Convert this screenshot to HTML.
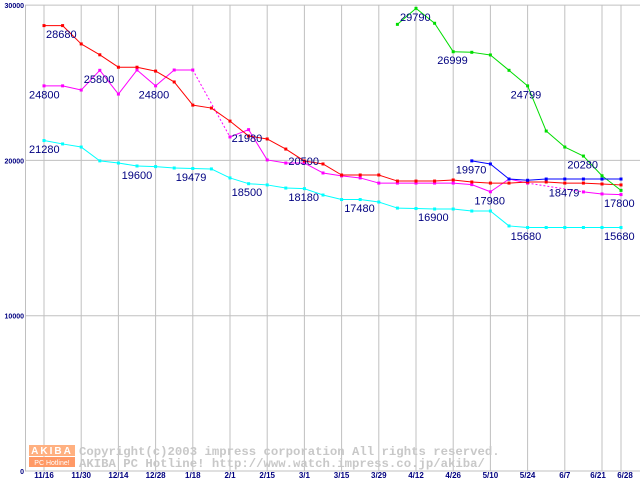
<!DOCTYPE html>
<html><head><meta charset="utf-8"><style>
body{margin:0;background:#fff;width:640px;height:480px;overflow:hidden}
svg{display:block;font-family:"Liberation Sans",sans-serif}
</style></head><body>
<svg id="chart" width="640" height="480" xmlns="http://www.w3.org/2000/svg">
<g id="grid"></g>
<g id="wm">
<rect x="29" y="445" width="46" height="11" fill="#ffb080"/>
<text x="52" y="454" font-size="10" font-weight="bold" fill="#fff" text-anchor="middle" letter-spacing="2">AKIBA</text>
<rect x="29" y="457" width="46" height="10" fill="#ff9966"/>
<text x="52" y="465" font-size="7" fill="#fff" text-anchor="middle">PC Hotline!</text>
<text x="79" y="455" font-size="12.3" font-family="Liberation Mono,monospace" fill="#c8c8c8" font-weight="bold">Copyright(c)2003 impress corporation All rights reserved.</text>
<text x="79" y="467" font-size="12.3" font-family="Liberation Mono,monospace" fill="#c8c8c8" font-weight="bold">AKIBA PC Hotline!  http://www.watch.impress.co.jp/akiba/</text>
</g>
<g id="series"></g>
<g id="labels"></g>
</svg>
<script>
const xTicks=["11/16","11/30","12/14","12/28","1/18","2/1","2/15","3/1","3/15","3/29","4/12","4/26","5/10","5/24","6/7","6/21","6/28"];
const yTicks=[0,10000,20000,30000];
const redVals=[28680,28680,27500,26800,26000,26000,25750,25050,23560,23370,22530,21570,21380,20730,19960,19770,19060,19060,19060,18670,18670,18670,18740,18610,18540,18540,18610,18610,18540,18540,18480,18420];
const magentaVals=[24800,24800,24530,25800,24270,25820,24800,25820,25820,null,21510,21980,20030,19830,19830,19190,19000,18870,18540,18540,18540,18540,18540,18440,17980,18800,18540,null,null,17970,17840,17800];
const cyanVals=[21280,21060,20860,19970,19830,19640,19600,19510,19479,19450,18870,18500,18420,18220,18180,17770,17480,17480,17320,16930,16900,16870,16870,16740,16740,15780,15680,15680,15680,15680,15680,15680];
const greenVals=[null,null,null,null,null,null,null,null,null,null,null,null,null,null,null,null,null,null,null,28760,29790,28830,26999,26960,26790,25800,24799,21890,20860,20280,19010,18070];
const blueVals=[null,null,null,null,null,null,null,null,null,null,null,null,null,null,null,null,null,null,null,null,null,null,null,19970,19770,18800,18720,18800,18800,18800,18800,18800];
const labelTexts=["28680","25800","24800","24800","21280","21980","20500","19600","19479","18500","18180","17480","16900","29790","26999","24799","19970","17980","18479","20280","17800","15680","15680"];
const labelIdx=[0,3,0,6,0,11,14,6,8,11,14,17,20,20,22,26,23,24,28,29,31,26,31];
const labelVal=[28680,25800,24800,24800,21280,21980,20500,19600,19479,18500,18180,17480,16900,29790,26999,24799,19970,17980,18479,20280,17800,15680,15680];
const labelDx=[2,-16,-15,-17,-15,-17,-16,-34,-17,-17,-16,-16,2,-16,-16,-17,-16,-16,-16,-16,-17,-17,-17];

const NS="http://www.w3.org/2000/svg";
function X(i){return i===31?621:44+18.6*i;}
function Y(v){return 471-v*0.01553;}
function tx(i){return i===16?621:44+37.2*i;}
function mk(tag,at,par){const e=document.createElementNS(NS,tag);for(const k in at)e.setAttribute(k,at[k]);par.appendChild(e);return e;}
const grid=document.getElementById('grid');
for(let i=0;i<xTicks.length;i++){
  const l=mk('line',{x1:tx(i),x2:tx(i),y1:5,y2:471,stroke:'#c0c0c0','stroke-width':1},grid);
  
  
  const t=mk('text',{x:tx(i)+(i===15?-4:i===16?4:0),y:478,'font-size':8,'font-weight':'bold',fill:'#000080','text-anchor':'middle'},grid);
  t.textContent=xTicks[i];
  
  
}
for(const v of yTicks){
  const l=mk('line',{x1:25,x2:640,y1:Y(v),y2:Y(v),stroke:'#c0c0c0','stroke-width':1},grid);
  
  
  const t=mk('text',{x:24,y:Y(v)+3,'font-size':7,'font-weight':'bold',fill:'#000080','text-anchor':'end'},grid);
  t.textContent=v;
  
  
}
const ax=mk('line',{x1:25.5,x2:25.5,y1:5,y2:471,stroke:'#c0c0c0'},grid);


const sg=document.getElementById('series');
function draw(vals,color,name){
  const g=mk('g',{},sg);
  
  
  let prev=-1;
  for(let i=0;i<vals.length;i++){
    if(vals[i]==null)continue;
    if(prev>=0){
      const a={x1:X(prev),y1:Y(vals[prev]),x2:X(i),y2:Y(vals[i]),stroke:color,'stroke-width':1};
      if(i-prev>1)a['stroke-dasharray']='2,2';
      const l=mk('line',a,g);
      
      
    }
    const r=mk('rect',{x:X(i)-1.5,y:Y(vals[i])-1.5,width:3,height:3,fill:color},g);
    
    
    prev=i;
  }
}
draw(cyanVals,'#00ffff','cyan-series');
draw(magentaVals,'#ff00ff','magenta-series');
draw(redVals,'#ff0000','red-series');
draw(greenVals,'#00dd00','green-series');
draw(blueVals,'#0000ff','blue-series');
const lg=document.getElementById('labels');
for(let k=0;k<labelTexts.length;k++){
  const t=mk('text',{x:X(labelIdx[k])+labelDx[k],y:Y(labelVal[k])+12.5,'font-size':11,fill:'#000080'},lg);
  t.textContent=labelTexts[k];
  
  
}
</script>
</body></html>
